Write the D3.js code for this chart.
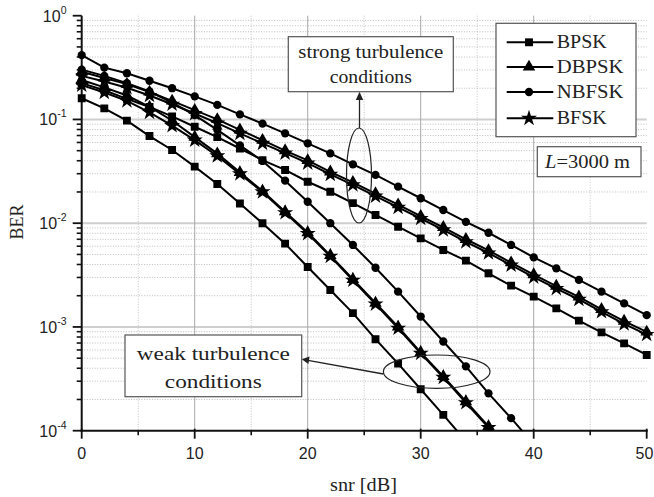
<!DOCTYPE html>
<html>
<head>
<meta charset="utf-8">
<script src="https://cdn.jsdelivr.net/npm/d3@7"></script>
<style>
  html, body { margin: 0; padding: 0; background: #fff; }
  svg { display: block; }
</style>
</head>
<body>
<svg id="chart" width="654" height="497"></svg>
<script>
// ---------------- data ----------------
const snr = [0,2,4,6,8,10,12,14,16,18,20,22,24,26,28,30,32,34,36,38,40,42,44,46,48,50];

const bpskWeak   = [0.160,0.128,0.0973,0.0692,0.0508,0.0351,0.0239,0.0155,0.00998,0.00635,0.00378,0.00227,0.00136,0.000762,0.000443,0.000251,0.000142,0.0000794];
const dbpskWeak  = [0.240,0.204,0.170,0.132,0.0977,0.0676,0.0468,0.0309,0.0204,0.0129,0.00813,0.00490,0.00288,0.00170,0.00100,0.000569,0.000333,0.000191,0.000110,0.0000617];
const nbfskWeak  = [0.302,0.263,0.224,0.186,0.145,0.110,0.0794,0.0562,0.0398,0.0257,0.0161,0.0100,0.00617,0.00372,0.00219,0.00126,0.000724,0.000417,0.000229,0.000132,0.0000741];
const bfskWeak   = [0.214,0.182,0.151,0.117,0.0871,0.0631,0.0445,0.0299,0.0200,0.0126,0.00794,0.00479,0.00282,0.00166,0.000971,0.000557,0.000326,0.000186,0.000107,0.0000603];

const bpskStrong  = [0.224,0.191,0.158,0.132,0.107,0.0851,0.0676,0.0525,0.0406,0.0326,0.0251,0.0201,0.0156,0.0120,0.00925,0.00714,0.00552,0.00436,0.00329,0.00250,0.00196,0.00151,0.00115,0.000887,0.000695,0.000537];
const dbpskStrong = [0.288,0.251,0.219,0.184,0.151,0.123,0.100,0.0794,0.0631,0.0501,0.0403,0.0313,0.0248,0.0193,0.0151,0.0117,0.00912,0.00700,0.00547,0.00417,0.00320,0.00248,0.00195,0.00148,0.00114,0.000895];
const nbfskStrong = [0.417,0.316,0.279,0.236,0.200,0.167,0.138,0.112,0.0912,0.0735,0.0589,0.0471,0.0369,0.0292,0.0225,0.0174,0.0134,0.0103,0.00809,0.00617,0.00469,0.00367,0.00284,0.00219,0.00169,0.00130];
const bfskStrong  = [0.263,0.232,0.202,0.170,0.140,0.114,0.0923,0.0733,0.0589,0.0473,0.0380,0.0295,0.0234,0.0182,0.0142,0.0111,0.00861,0.00661,0.00516,0.00394,0.00302,0.00234,0.00184,0.00140,0.00107,0.000845];

const schemes = ["BPSK","DBPSK","NBFSK","BFSK"];
const xTicksMajor = [0,10,20,30,40,50];
const xTicksMinor = [5,15,25,35,45];
const yExponents = [0,-1,-2,-3,-4];

// ---------------- layout ----------------
const svg = d3.select("#chart");
const X0 = 81.7, X1 = 646.7, Y0 = 15.7, Y1 = 430.7;
const x = d3.scaleLinear().domain([0,50]).range([X0,X1]);
const y = d3.scaleLog().domain([1e-4,1]).range([Y1,Y0]);

const symbolOf = {
  BPSK: d3.symbol().type(d3.symbolSquare).size(62),
  DBPSK: d3.symbol().type(d3.symbolTriangle).size(68),
  NBFSK: d3.symbol().type(d3.symbolCircle).size(54),
  BFSK: d3.symbol().type(d3.symbolStar).size(80)
};

// ---------------- grid ----------------
const grid = svg.append("g");
const minorY = [];
for (let e = -4; e < 0; e++) for (let m = 2; m <= 9; m++) minorY.push(m * Math.pow(10, e));
grid.selectAll(".hmin").data(minorY).enter().append("line")
  .attr("x1", X0).attr("x2", X1)
  .attr("y1", d => y(d)).attr("y2", d => y(d))
  .attr("stroke", "#bdbdbd").attr("stroke-width", 1).attr("stroke-dasharray", "1,1.6");
grid.selectAll(".vmin").data(xTicksMinor).enter().append("line")
  .attr("x1", d => x(d)).attr("x2", d => x(d))
  .attr("y1", Y0).attr("y2", Y1)
  .attr("stroke", "#c4c4c4").attr("stroke-width", 1).attr("stroke-dasharray", "1,1.6");
grid.selectAll(".hmaj").data([1e-1,1e-2,1e-3]).enter().append("line")
  .attr("x1", X0).attr("x2", X1)
  .attr("y1", d => y(d)).attr("y2", d => y(d))
  .attr("stroke", "#cfcfcf").attr("stroke-width", 2);
grid.selectAll(".vmaj").data([10,20,30,40]).enter().append("line")
  .attr("x1", d => x(d)).attr("x2", d => x(d))
  .attr("y1", Y0).attr("y2", Y1)
  .attr("stroke", "#a8a8a8").attr("stroke-width", 1);

// ---------------- axes ----------------
const axes = svg.append("g");
axes.selectAll(".ytm").data(minorY).enter().append("line")
  .attr("x1", X0 - 5).attr("x2", X0).attr("y1", d => y(d)).attr("y2", d => y(d))
  .attr("stroke", "#111").attr("stroke-width", 1.6);
axes.selectAll(".ytM").data(yExponents).enter().append("line")
  .attr("x1", X0 - 9).attr("x2", X0).attr("y1", e => y(Math.pow(10, e))).attr("y2", e => y(Math.pow(10, e)))
  .attr("stroke", "#111").attr("stroke-width", 1.8);
axes.selectAll(".xtm").data(xTicksMinor).enter().append("line")
  .attr("x1", d => x(d)).attr("x2", d => x(d)).attr("y1", Y1).attr("y2", Y1 + 4.5)
  .attr("stroke", "#111").attr("stroke-width", 1.6);
axes.selectAll(".xtM").data(xTicksMajor).enter().append("line")
  .attr("x1", d => x(d)).attr("x2", d => x(d)).attr("y1", Y1 - 2).attr("y2", Y1 + 8)
  .attr("stroke", "#111").attr("stroke-width", 1.8);
axes.append("line").attr("x1", X0).attr("x2", X0).attr("y1", Y0).attr("y2", Y1 + 1)
  .attr("stroke", "#111").attr("stroke-width", 2);
axes.append("line").attr("x1", X0 - 1).attr("x2", X1 + 1).attr("y1", Y1).attr("y2", Y1)
  .attr("stroke", "#111").attr("stroke-width", 2);

// tick labels
axes.selectAll(".xl").data(xTicksMajor).enter().append("text")
  .attr("x", d => Math.min(x(d), 644.5)).attr("y", 458.5)
  .attr("text-anchor", "middle")
  .attr("font-family", "'Liberation Sans', Arial, sans-serif").attr("font-size", 16)
  .attr("fill", "#222").text(d => d);
const yl = axes.selectAll(".yl").data(yExponents).enter().append("text")
  .attr("x", 66.5).attr("y", e => y(Math.pow(10, e)) + 6)
  .attr("text-anchor", "end")
  .attr("font-family", "'Liberation Sans', Arial, sans-serif").attr("font-size", 16)
  .attr("fill", "#222");
yl.append("tspan").text("10");
yl.append("tspan").attr("font-size", 10.5).attr("dy", -8).text(e => e);

// axis titles
const serif = "'Liberation Serif', 'Times New Roman', serif";
svg.append("text").attr("transform", "translate(23,222) rotate(-90)")
  .attr("text-anchor", "middle")
  .attr("font-family", serif).attr("font-size", 18)
  .attr("fill", "#222").text("BER");
svg.append("text").attr("x", 363.5).attr("y", 491)
  .attr("text-anchor", "middle")
  .attr("font-family", serif).attr("font-size", 18)
  .attr("textLength", 67).attr("lengthAdjust", "spacingAndGlyphs")
  .attr("fill", "#222").text("snr [dB]");

// ---------------- curves ----------------
svg.append("clipPath").attr("id", "plotclip").append("rect")
  .attr("x", X0 - 6).attr("y", Y0 - 6).attr("width", 654 - X0 + 6).attr("height", Y1 - Y0 + 6);
const plot = svg.append("g").attr("clip-path", "url(#plotclip)");
const series = [
  {name: "BPSK", vals: bpskStrong}, {name: "DBPSK", vals: dbpskStrong},
  {name: "BFSK", vals: bfskStrong}, {name: "NBFSK", vals: nbfskStrong},
  {name: "NBFSK", vals: nbfskWeak}, {name: "DBPSK", vals: dbpskWeak},
  {name: "BFSK", vals: bfskWeak}, {name: "BPSK", vals: bpskWeak}
];
const line = d3.line().x(d => x(d[0])).y(d => y(d[1]));
series.forEach(s => {
  const pts = s.vals.map((v, i) => [snr[i], v]);
  const g = plot.append("g");
  g.append("path").attr("d", line(pts)).attr("fill", "none")
    .attr("stroke", "#000").attr("stroke-width", 2);
  g.selectAll("path.m").data(pts.filter(p => p[1] >= 1e-4)).enter().append("path")
    .attr("class", "m")
    .attr("d", symbolOf[s.name]())
    .attr("transform", p => `translate(${x(p[0])},${y(p[1])})`)
    .attr("fill", "#000");
});

// ---------------- legend ----------------
const leg = svg.append("g");
leg.append("rect").attr("x", 496).attr("y", 23.3).attr("width", 140).attr("height", 113.4)
  .attr("fill", "#fff").attr("stroke", "#555").attr("stroke-width", 1.2);
const legRowY = [42.3, 67, 92, 118.3];
const legTextW = [50, 66.7, 66.7, 50];
schemes.forEach((nm, i) => {
  leg.append("line").attr("x1", 506.7).attr("x2", 553.3).attr("y1", legRowY[i]).attr("y2", legRowY[i])
    .attr("stroke", "#000").attr("stroke-width", 2);
  leg.append("path").attr("d", symbolOf[nm]()).attr("transform", `translate(529,${legRowY[i]})`).attr("fill", "#000");
  leg.append("text").attr("x", 556.7).attr("y", legRowY[i] + 6)
    .attr("font-family", serif).attr("font-size", 18)
    .attr("textLength", legTextW[i]).attr("lengthAdjust", "spacingAndGlyphs")
    .attr("fill", "#222").text(nm);
});

// L box
svg.append("rect").attr("x", 537.3).attr("y", 146.7).attr("width", 103.7).attr("height", 30)
  .attr("fill", "#fff").attr("stroke", "#555").attr("stroke-width", 1.2);
const lt = svg.append("text").attr("x", 545).attr("y", 168.3)
  .attr("font-family", serif).attr("font-size", 18)
  .attr("textLength", 85).attr("lengthAdjust", "spacingAndGlyphs").attr("fill", "#222");
lt.append("tspan").attr("font-style", "italic").text("L");
lt.append("tspan").text("=3000 m");

// ---------------- annotations ----------------
const ann = svg.append("g");
ann.append("ellipse").attr("cx", 359).attr("cy", 175.5).attr("rx", 12.5).attr("ry", 47.5)
  .attr("fill", "none").attr("stroke", "#222").attr("stroke-width", 1.2);
ann.append("line").attr("x1", 359.5).attr("x2", 359.5).attr("y1", 128).attr("y2", 98)
  .attr("stroke", "#222").attr("stroke-width", 1.3);
ann.append("path").attr("d", "M359.5,91.7 L355.8,100 L363.2,100 Z").attr("fill", "#222");
ann.append("rect").attr("x", 288.3).attr("y", 36.7).attr("width", 165).attr("height", 55)
  .attr("fill", "#fff").attr("stroke", "#555").attr("stroke-width", 1.2);
ann.append("text").attr("x", 370.8).attr("y", 58.3).attr("text-anchor", "middle")
  .attr("font-family", serif).attr("font-size", 18)
  .attr("textLength", 145).attr("lengthAdjust", "spacingAndGlyphs")
  .attr("fill", "#222").text("strong turbulence");
ann.append("text").attr("x", 370.8).attr("y", 83.3).attr("text-anchor", "middle")
  .attr("font-family", serif).attr("font-size", 18)
  .attr("textLength", 82).attr("lengthAdjust", "spacingAndGlyphs")
  .attr("fill", "#222").text("conditions");
ann.append("ellipse").attr("cx", 436.7).attr("cy", 371.7).attr("rx", 53.3).attr("ry", 16.7)
  .attr("fill", "none").attr("stroke", "#222").attr("stroke-width", 1.2);
ann.append("line").attr("x1", 383.4).attr("y1", 374).attr("x2", 308).attr("y2", 360.4)
  .attr("stroke", "#222").attr("stroke-width", 1.3);
ann.append("path").attr("d", "M301.7,359.3 L309.6,356.6 L308.4,364 Z").attr("fill", "#222");
ann.append("rect").attr("x", 125).attr("y", 335).attr("width", 176.7).attr("height", 61.7)
  .attr("fill", "#fff").attr("stroke", "#555").attr("stroke-width", 1.2);
ann.append("text").attr("x", 213.3).attr("y", 360).attr("text-anchor", "middle")
  .attr("font-family", serif).attr("font-size", 19)
  .attr("textLength", 153).attr("lengthAdjust", "spacingAndGlyphs")
  .attr("fill", "#222").text("weak turbulence");
ann.append("text").attr("x", 213.3).attr("y", 388.3).attr("text-anchor", "middle")
  .attr("font-family", serif).attr("font-size", 19)
  .attr("textLength", 97).attr("lengthAdjust", "spacingAndGlyphs")
  .attr("fill", "#222").text("conditions");
</script>
</body>
</html>
